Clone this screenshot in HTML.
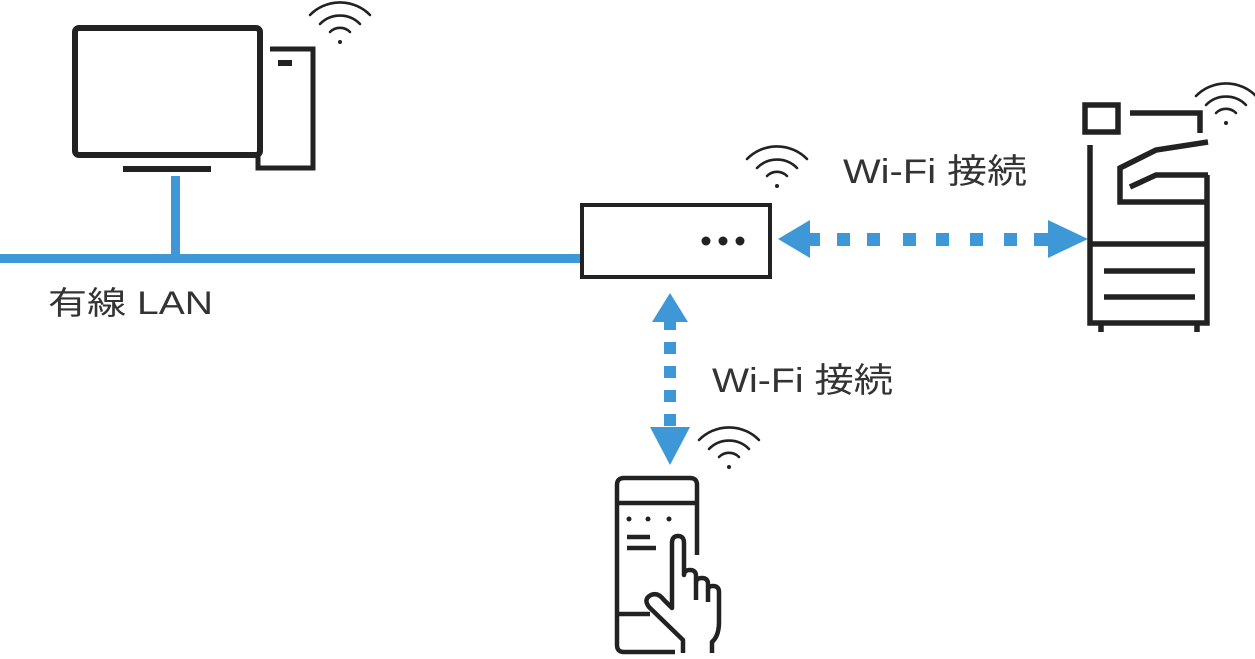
<!DOCTYPE html>
<html><head><meta charset="utf-8"><style>
html,body{margin:0;padding:0;background:#fff;width:1255px;height:659px;overflow:hidden}
svg{display:block}
text{font-family:"Liberation Sans","Noto Sans CJK JP",sans-serif;fill:#333}
</style></head><body>
<svg width="1255" height="659" viewBox="0 0 1255 659" xmlns="http://www.w3.org/2000/svg">
<defs>
<g id="wifi" fill="none" stroke="#222" stroke-width="2.6" stroke-linecap="round">
<path d="M-30,-18 A42,42 0 0 1 30,-18"/>
<path d="M-20,-9 A28,28 0 0 1 20,-9"/>
<path d="M-10,-1 A14,14 0 0 1 10,-1"/>
<circle cx="0" cy="9" r="2" fill="#222" stroke="none"/>
</g>
</defs>
<!-- LAN -->
<rect x="0" y="254" width="580" height="9" fill="#3e98d8"/>
<rect x="171" y="176" width="9" height="82" fill="#3e98d8"/>
<!-- PC -->
<rect x="75" y="28" width="185" height="127" rx="4" fill="none" stroke="#222" stroke-width="6"/>
<rect x="123" y="166" width="88" height="6" fill="#222"/>
<path d="M270,49 H313 V168 H258 V155" fill="none" stroke="#222" stroke-width="5"/>
<rect x="278" y="60" width="14" height="6" fill="#222"/>
<use href="#wifi" x="340" y="33"/>
<text x="48" y="314" font-size="32" textLength="165" lengthAdjust="spacingAndGlyphs">有線 LAN</text>
<!-- Router -->
<rect x="582" y="205" width="188" height="72" fill="none" stroke="#222" stroke-width="4"/>
<circle cx="706" cy="241" r="4.5" fill="#222"/><circle cx="723" cy="241" r="4.5" fill="#222"/><circle cx="740" cy="241" r="4.5" fill="#222"/>
<use href="#wifi" x="777" y="177"/>
<text x="843" y="183" font-size="34" textLength="184" lengthAdjust="spacingAndGlyphs">Wi-Fi 接続</text>
<!-- horizontal arrow -->
<g fill="#3e98d8">
<polygon points="778,239 810,220 810,258"/>
<rect x="808" y="233" width="12" height="13"/>
<rect x="837" y="233" width="13" height="13"/><rect x="867" y="233" width="13" height="13"/><rect x="903" y="233" width="13" height="13"/><rect x="936" y="233" width="13" height="13"/><rect x="970" y="233" width="13" height="13"/><rect x="1004" y="233" width="13" height="13"/><rect x="1034" y="233" width="14" height="13"/>
<polygon points="1088,239 1048,220 1048,258"/>
<!-- vertical arrow -->
<polygon points="670,293 652,322 688,322"/>
<rect x="664" y="320" width="12" height="10"/>
<rect x="664" y="342" width="12" height="12"/><rect x="664" y="366" width="12" height="12"/><rect x="664" y="390" width="12" height="12"/><rect x="664" y="414" width="12" height="12"/>
<polygon points="670,465 650,427 690,427"/>
</g>
<text x="712" y="392" font-size="34" textLength="181" lengthAdjust="spacingAndGlyphs">Wi-Fi 接続</text>
<!-- Printer -->
<g fill="none" stroke="#222" stroke-width="5.5">
<rect x="1085" y="105" width="33" height="27"/>
<path d="M1130,113 H1200 V133"/>
<path d="M1090,145 V323 H1207 V175"/>
<path d="M1090,244 H1207"/>
<path d="M1208,142 L1156,150 L1120,168 L1120,202 L1208,202"/>
<path d="M1130,187 L1156,175 L1208,175"/>
<path d="M1104,271 H1195 M1104,297 H1195"/>
<path d="M1101,323 V332 M1197,323 V332"/>
</g>
<use href="#wifi" x="1226" y="114"/>
<!-- Phone -->
<g fill="none" stroke="#222" stroke-width="4.5" stroke-linejoin="round">
<path d="M675,652 H624 Q617,652 617,645 V485 Q617,478 624,478 H690 Q697,478 697,485 V555"/>
<path d="M617,503 H697"/>
<path d="M617,614 H650"/>
<path d="M627,537 H650 M627,548 H656"/>
<path d="M683,653 L683,640 L649,607 Q643,599 651,595 Q658,592 664,600 L672,608 L672,543 Q672,536 678,536 Q684,536 684,543 L684,575 Q684,570 690,570 Q696,570 696,576 L696,583 Q696,578 702,578 Q708,578 708,584 L708,590 Q708,586 713,586 Q719,586 719,592 L719,622 Q719,636 712,642 L712,653"/>
<path d="M696,583 V600 M708,590 V602"/>
</g>
<g fill="#222"><circle cx="629" cy="519" r="2.5"/><circle cx="648" cy="519" r="2.5"/><circle cx="669" cy="519" r="2.5"/></g>
<use href="#wifi" x="729" y="458"/>
</svg>
</body></html>
